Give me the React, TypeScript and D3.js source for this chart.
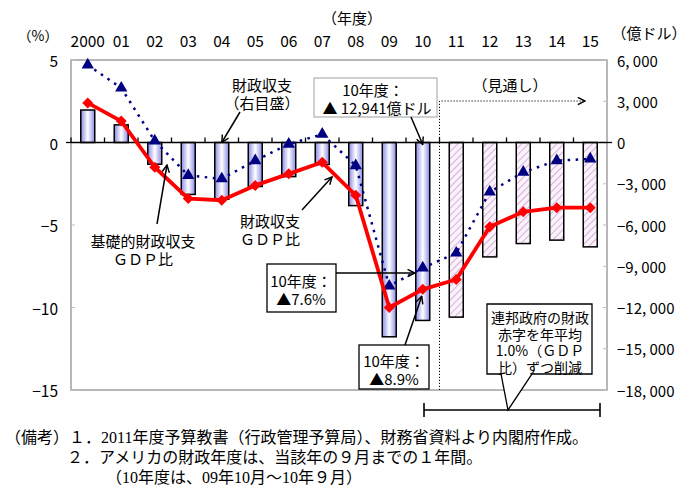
import React from 'react';
import * as d3 from 'd3';

// fiscal years (top axis)
const years = ['2000', '01', '02', '03', '04', '05', '06', '07', '08', '09', '10', '11', '12', '13', '14', '15'];
// first forecast year
const forecastFrom = '11';
// federal budget balance, 100 million dollars (right axis)
const balance = [2362, 1282, -1578, -3776, -4127, -3200, -2482, -1600, -4590, -14130, -12941, -12700, -8320, -7350, -7100, -7590];
// budget balance, % of GDP (left axis)
const balanceGdp = [2.4, 1.3, -1.5, -3.4, -3.5, -2.6, -1.9, -1.2, -3.2, -10.0, -8.9, -8.3, -5.1, -4.2, -3.95, -3.95];
// primary balance, % of GDP (left axis)
const primaryGdp = [4.7, 3.3, 0.1, -2.0, -2.2, -1.1, -0.1, 0.5, -1.4, -8.7, -7.6, -6.7, -3.0, -1.8, -1.1, -1.0];

const leftTicks = [5, 0, -5, -10, -15];
const rightTicks = [6000, 3000, 0, -3000, -6000, -9000, -12000, -15000, -18000];
const rightTickLabels = ['6, 000', '3, 000', '0', '−3, 000', '−6, 000', '−9, 000', '−12, 000', '−15, 000', '−18, 000'];

const notes = [
  '（備考）１．2011年度予算教書（行政管理予算局）、財務省資料より内閣府作成。',
  '２．アメリカの財政年度は、当該年の９月までの１年間。',
  '（10年度は、09年10月～10年９月）',
];

const FONT = '"Noto Sans CJK JP", "Noto Sans", sans-serif';
const SERIF = '"Liberation Serif", "Noto Sans CJK JP", serif';

// multi-line text as one <text> with tspans
function Lines({ x, y, lines, gap, size = 15 }: { x: number; y: number; lines: string[]; gap: number; size?: number }) {
  return (
    <text x={x} y={y} textAnchor="middle" fontSize={size} dominantBaseline="central">
      {lines.map((s, i) => (
        <tspan key={i} x={x} dy={i === 0 ? 0 : gap}>{s}</tspan>
      ))}
    </text>
  );
}

export default function App() {
  const x = d3.scaleBand<string>().domain(years).range([71, 607]);
  const yL = d3.scaleLinear().domain([-15, 5]).range([390, 60]);
  const yR = d3.scaleLinear().domain([-18000, 6000]).range([390, 60]);
  const cx = (y: string) => (x(y) as number) + x.bandwidth() / 2;
  const barW = 14;
  const fIdx = years.indexOf(forecastFrom);

  const line = d3.line<number>().x((_, i) => cx(years[i])).y(d => yL(d));
  const diamond = d3.symbol().type(d3.symbolSquare).size(60)();
  const triangle = d3.symbol().type(d3.symbolTriangle).size(66)();

  const x0 = x.range()[0];
  const x1 = x.range()[1];
  const forecastX = x(forecastFrom) as number;

  return (
    <svg width={690} height={496} style={{ position: 'absolute', left: 0, top: 0, background: '#fff' }} fontFamily={FONT}>
      <defs>
        <linearGradient id="barGrad" x1="0" x2="1" y1="0" y2="0">
          <stop offset="0%" stopColor="#8a8ae6" />
          <stop offset="50%" stopColor="#ffffff" />
          <stop offset="100%" stopColor="#8a8ae6" />
        </linearGradient>
        <pattern id="hatch" width="5" height="5" patternUnits="userSpaceOnUse" patternTransform="rotate(45)">
          <rect width="5" height="5" fill="#faf2fa" />
          <line x1="0" y1="0" x2="0" y2="5" stroke="#cf9fd0" strokeWidth="1.6" />
        </pattern>
        <marker id="arr" viewBox="0 0 10 10" refX="9" refY="5" markerWidth="9" markerHeight="9" orient="auto" markerUnits="userSpaceOnUse">
          <path d="M1,1 L9,5 L1,9" fill="none" stroke="#000" strokeWidth="1.6" />
        </marker>
      </defs>

      {/* plot frame */}
      <rect x={x0} y={60} width={x1 - x0} height={330} fill="none" stroke="#a0a0a0" strokeWidth={1.5} />
      {leftTicks.map(t => (
        <line key={'lt' + t} x1={x0} x2={x0 + 4} y1={yL(t)} y2={yL(t)} stroke="#c0c0c0" />
      ))}
      {rightTicks.map(t => (
        <line key={'rt' + t} x1={x1 - 4} x2={x1} y1={yR(t)} y2={yR(t)} stroke="#c0c0c0" />
      ))}

      {/* bars */}
      {years.map((yr, i) => {
        const v = balance[i];
        const top = Math.min(yR(v), yR(0));
        const h = Math.abs(yR(v) - yR(0));
        return (
          <rect key={'b' + yr} x={cx(yr) - barW / 2} y={top} width={barW} height={h}
            fill={i >= fIdx ? 'url(#hatch)' : 'url(#barGrad)'} stroke="#000" strokeWidth={1.5} />
        );
      })}

      {/* zero line with category ticks */}
      <line x1={x0} x2={x1} y1={yL(0)} y2={yL(0)} stroke="#000" strokeWidth={1.6} />
      {years.map(yr => (
        <line key={'ct' + yr} x1={x(yr) as number} x2={x(yr) as number} y1={yL(0)} y2={yL(0) - 5} stroke="#000" strokeWidth={1.3} />
      ))}
      <line x1={x0 - 5} x2={x0} y1={yL(0)} y2={yL(0)} stroke="#000" strokeWidth={1.3} />
      <line x1={x1} x2={x1 + 5} y1={yL(0)} y2={yL(0)} stroke="#000" strokeWidth={1.3} />

      {/* forecast marker */}
      <path d={`M${forecastX},${yL(-15)} V101 H585`} fill="none" stroke="#000" strokeWidth={1} strokeDasharray="1.2,1.8" markerEnd="url(#arr)" />
      <text x={510} y={84} textAnchor="middle" dominantBaseline="central" fontSize={15}>（見通し）</text>

      {/* primary balance */}
      <path d={line(primaryGdp) || ''} fill="none" stroke="#000080" strokeWidth={2.5} strokeDasharray="2.5,5.5" />
      {primaryGdp.map((v, i) => (
        <path key={'p' + i} d={triangle || ''} transform={`translate(${cx(years[i])},${yL(v)})`} fill="#000080" />
      ))}

      {/* balance % GDP */}
      <path d={line(balanceGdp) || ''} fill="none" stroke="#ff0000" strokeWidth={3.8} strokeLinejoin="round" />
      {balanceGdp.map((v, i) => (
        <path key={'d' + i} d={diamond || ''} transform={`translate(${cx(years[i])},${yL(v)}) rotate(45)`} fill="#ff0000" />
      ))}

      {/* axes labels */}
      <text x={352} y={17} textAnchor="middle" dominantBaseline="central" fontSize={15}>（年度）</text>
      <text x={38} y={35} textAnchor="middle" dominantBaseline="central" fontSize={14}>（%）</text>
      <text x={649} y={32} textAnchor="middle" dominantBaseline="central" fontSize={15}>（億ドル）</text>
      {years.map(yr => (
        <text key={'yl' + yr} x={cx(yr)} y={40} textAnchor="middle" dominantBaseline="central" fontSize={15.5}>{yr}</text>
      ))}
      {leftTicks.map(t => (
        <text key={'ll' + t} x={58} y={yL(t)} textAnchor="end" dominantBaseline="central" fontSize={15.5}>
          {t < 0 ? '−' + Math.abs(t) : String(t)}
        </text>
      ))}
      {rightTicks.map((t, i) => (
        <text key={'rl' + t} x={617} y={yR(t)} textAnchor="start" dominantBaseline="central" fontSize={15}>{rightTickLabels[i]}</text>
      ))}

      {/* annotations */}
      <Lines x={262} y={84} lines={['財政収支', '（右目盛）']} gap={18} />
      <line x1={240} y1={112} x2={cx('04')} y2={yR(0)} stroke="#000" strokeWidth={1.5} markerEnd="url(#arr)" />

      <rect x={314} y={78} width={123} height={39} fill="#fff" stroke="#b0b0b0" strokeWidth={1.2} />
      <text x={373} y={89} textAnchor="middle" dominantBaseline="central" fontSize={15}>
        <tspan x={373}>10年度：</tspan>
        <tspan x={377} dy={18}>▲ 12,941億ドル</tspan>
      </text>
      <line x1={411} y1={117} x2={cx('10')} y2={yR(0) + 2} stroke="#000" strokeWidth={1.5} markerEnd="url(#arr)" />

      <Lines x={143} y={240} lines={['基礎的財政収支', 'ＧＤＰ比']} gap={18} />
      <line x1={157} y1={224} x2={167} y2={165} stroke="#000" strokeWidth={1.5} markerEnd="url(#arr)" />

      <Lines x={270} y={220} lines={['財政収支', 'ＧＤＰ比']} gap={18} />
      <line x1={302} y1={210} x2={332} y2={177} stroke="#000" strokeWidth={1.5} markerEnd="url(#arr)" />

      <rect x={267} y={264} width={69} height={48} fill="#fff" stroke="#000" strokeWidth={1.3} />
      <Lines x={301} y={280} lines={['10年度：', '▲7.6%']} gap={18} />
      <line x1={336} y1={273} x2={cx('10') - 8} y2={273} stroke="#000" strokeWidth={1.5} markerEnd="url(#arr)" />

      <rect x={359} y={345} width={70} height={44} fill="#fff" stroke="#000" strokeWidth={1.3} />
      <Lines x={394} y={360} lines={['10年度：', '▲8.9%']} gap={18} />
      <line x1={405} y1={345} x2={cx('10') - 1} y2={yL(-8.9) + 7} stroke="#000" strokeWidth={1.5} markerEnd="url(#arr)" />

      {/* callout */}
      <path d="M487,304 H592 V374 H532 L508,410 L501,374 H487 Z" fill="#fff" stroke="#000" strokeWidth={1.3} />
      <Lines x={540} y={317} lines={['連邦政府の財政', '赤字を年平均', '1.0%（ＧＤＰ', '比）ずつ削減']} gap={16.5} size={14} />
      <line x1={424} x2={600} y1={410} y2={410} stroke="#000" strokeWidth={1.6} />
      <line x1={424} x2={424} y1={403} y2={417} stroke="#000" strokeWidth={1.6} />
      <line x1={600} x2={600} y1={403} y2={417} stroke="#000" strokeWidth={1.6} />

      {/* notes */}
      <text x={5} y={437} dominantBaseline="central" fontSize={16} fontFamily={SERIF}>{notes[0]}</text>
      <text x={67} y={457} dominantBaseline="central" fontSize={16} fontFamily={SERIF}>{notes[1]}</text>
      <text x={106} y={477} dominantBaseline="central" fontSize={16} fontFamily={SERIF}>{notes[2]}</text>
    </svg>
  );
}
